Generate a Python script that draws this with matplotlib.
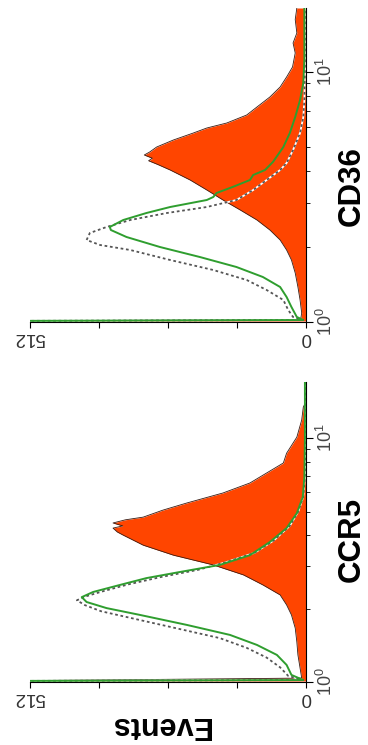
import numpy as np
import matplotlib
matplotlib.use('Agg')
import matplotlib.pyplot as plt
import matplotlib.ticker as mticker

#%% Data (log decades above 10^0 and event counts)
# CD36 panel (top)
cd36_fill_L = [0.004, 0.01, 0.036, 0.088, 0.14, 0.196, 0.248, 0.288, 0.328, 0.368, 0.408,
               0.448, 0.488, 0.528, 0.568, 0.608, 0.63, 0.645, 0.655, 0.668, 0.68, 0.70,
               0.728, 0.756, 0.776, 0.796, 0.828, 0.86, 0.90, 0.94, 0.98, 1.02, 1.076,
               1.116, 1.156, 1.21, 1.256]
cd36_fill_n = [600, 10, 8, 11, 15, 20, 27, 36, 48, 67, 91,
               122, 154, 184, 215, 252, 275, 292, 285, 300, 290, 277,
               246, 209, 184, 147, 110, 91, 67, 48, 36, 25, 20,
               24, 17, 20, 17]
cd36_green_L = [0.004, 0.008, 0.02, 0.06, 0.10, 0.14, 0.18, 0.22, 0.26, 0.30, 0.34, 0.368,
                0.38, 0.408, 0.436, 0.46, 0.488, 0.50, 0.516, 0.541, 0.568, 0.588, 0.608,
                0.641, 0.70, 0.756, 0.82, 0.888, 0.956, 1.05, 1.256]
cd36_green_n = [600, 5, 17, 27, 36, 48, 80, 129, 197, 271, 333, 362,
                364, 339, 296, 252, 184, 172, 166, 135, 104, 98, 76,
                61, 42, 30, 20, 11, 5, 3, 3]
cd36_dot_L = [0.004, 0.008, 0.02, 0.048, 0.088, 0.128, 0.168, 0.208, 0.248, 0.288, 0.308,
              0.328, 0.356, 0.38, 0.408, 0.436, 0.46, 0.488, 0.528, 0.568, 0.608, 0.636,
              0.688, 0.756, 0.82, 0.888, 1.0, 1.256]
cd36_dot_n = [600, 5, 24, 33, 42, 73, 110, 172, 252, 326, 382,
              407, 401, 370, 326, 258, 184, 129, 98, 73, 48, 36,
              24, 11, 5, 3, 2, 2]

# CCR5 panel (bottom)
ccr5_fill_L = [0.004, 0.016, 0.057, 0.111, 0.164, 0.221, 0.275, 0.316, 0.357, 0.398, 0.439,
               0.48, 0.52, 0.561, 0.602, 0.615, 0.631, 0.64, 0.652, 0.665, 0.676, 0.705,
               0.734, 0.775, 0.816, 0.857, 0.898, 0.938, 1.004, 1.074, 1.127, 1.15, 1.23]
ccr5_fill_n = [600, 8, 11, 15, 17, 20, 27, 36, 48, 80, 116,
               172, 246, 302, 339, 350, 358, 340, 358, 335, 302, 265,
               221, 154, 104, 73, 42, 36, 17, 8, 5, 0, 0]
ccr5_green_L = [0.004, 0.008, 0.029, 0.07, 0.111, 0.152, 0.193, 0.234, 0.275, 0.303, 0.328,
                0.348, 0.369, 0.398, 0.426, 0.451, 0.48, 0.52, 0.574, 0.631, 0.692, 0.758,
                0.84, 1.0, 1.23]
ccr5_green_n = [600, 5, 27, 36, 54, 91, 141, 221, 308, 370, 407,
                416, 395, 345, 296, 234, 160, 104, 67, 36, 17, 6,
                3, 2, 2]
ccr5_dot_L = [0.004, 0.008, 0.025, 0.06, 0.10, 0.14, 0.18, 0.22, 0.26, 0.29, 0.315,
              0.335, 0.35, 0.37, 0.40, 0.43, 0.46, 0.49, 0.53, 0.58, 0.64, 0.70,
              0.76, 0.84, 1.0, 1.23]
ccr5_dot_n = [600, 5, 33, 48, 73, 110, 160, 240, 320, 380, 410,
              425, 410, 380, 330, 270, 200, 150, 95, 60, 30, 14,
              5, 2, 1, 1]

count_ticks = [0, 128, 256, 384, 512]
count_labels = ['0', '', '', '', '512']

plt.rcParams['font.family'] = ['Liberation Sans', 'DejaVu Sans']
plt.rcParams['mathtext.fontset'] = 'custom'
plt.rcParams['mathtext.rm'] = 'Liberation Sans'

FILL = '#ff4500'
GREEN = '#2f9e2f'

#%% Plotting functions

def draw_panel(ax, fill_L, fill_n, green_L, green_n, dot_L, dot_n, top):
    # Fluorescence on the vertical (log) axis, counts on the horizontal one
    yf, yg, yd = (10 ** np.array(v) for v in (fill_L, green_L, dot_L))

    ax.fill_betweenx(yf, 0, fill_n, color=FILL, lw=0, zorder=1)
    ax.plot(fill_n, yf, color='#3a1a10', lw=0.6, zorder=2)

    # Dotted isotype line: white under, grey dashes on top
    ax.plot(dot_n, yd, color='white', lw=1.3, zorder=3)
    ax.plot(dot_n, yd, color='#555555', lw=1.3, ls=(0, (1.5, 1.5)), zorder=4)

    ax.plot(green_n, yg, color=GREEN, lw=1.4, zorder=5)

    # Axes
    ax.set_yscale('log')
    ax.set_ylim(1, 10 ** top)
    ax.set_xlim(512, 0)
    ax.yaxis.tick_right()
    ax.spines['top'].set_visible(False)
    ax.spines['left'].set_visible(False)
    for s in ('bottom', 'right'):
        ax.spines[s].set_linewidth(0.8)

    ax.set_xticks(count_ticks)
    ax.set_xticklabels(count_labels)
    ax.yaxis.set_major_locator(mticker.FixedLocator([1, 10]))
    ax.yaxis.set_major_formatter(mticker.FixedFormatter(['10$^0$', '10$^1$']))
    ax.yaxis.set_minor_locator(mticker.LogLocator(base=10, subs=np.arange(2, 10)))
    ax.yaxis.set_minor_formatter(mticker.NullFormatter())

    ax.tick_params(axis='x', direction='out', length=4, width=0.8, labelsize=13.5,
                   labelrotation=180, labelcolor='#333333', pad=1)
    ax.tick_params(axis='y', which='major', direction='out', length=5, width=0.8,
                   labelsize=13, labelrotation=90, labelcolor='#444444', pad=2)
    ax.tick_params(axis='y', which='minor', direction='out', length=3, width=0.6)
    for lab in ax.get_yticklabels():
        lab.set_verticalalignment('center')


#%% Figure
fig = plt.figure(figsize=(3.68, 7.45), dpi=100)

ax_top = fig.add_axes([30 / 368, 1 - 322 / 745, 276 / 368, 314 / 745])
draw_panel(ax_top, cd36_fill_L, cd36_fill_n, cd36_green_L, cd36_green_n,
           cd36_dot_L, cd36_dot_n, 1.256)

ax_bot = fig.add_axes([30 / 368, 1 - 682 / 745, 276 / 368, 300 / 745])
draw_panel(ax_bot, ccr5_fill_L, ccr5_fill_n, ccr5_green_L, ccr5_green_n,
           ccr5_dot_L, ccr5_dot_n, 1.23)

# Labels
fig.text(352 / 368, 1 - 186 / 745, 'CD36', rotation=90, fontsize=22.5, fontweight='bold',
         ha='center', va='center')
fig.text(352 / 368, 1 - 539 / 745, 'CCR5', rotation=90, fontsize=22.5, fontweight='bold',
         ha='center', va='center')
fig.text(160 / 368, 1 - 725 / 745, 'Events', rotation=180, fontsize=22, fontweight='bold',
         ha='center', va='center')

plt.savefig('out.png', dpi=100)
